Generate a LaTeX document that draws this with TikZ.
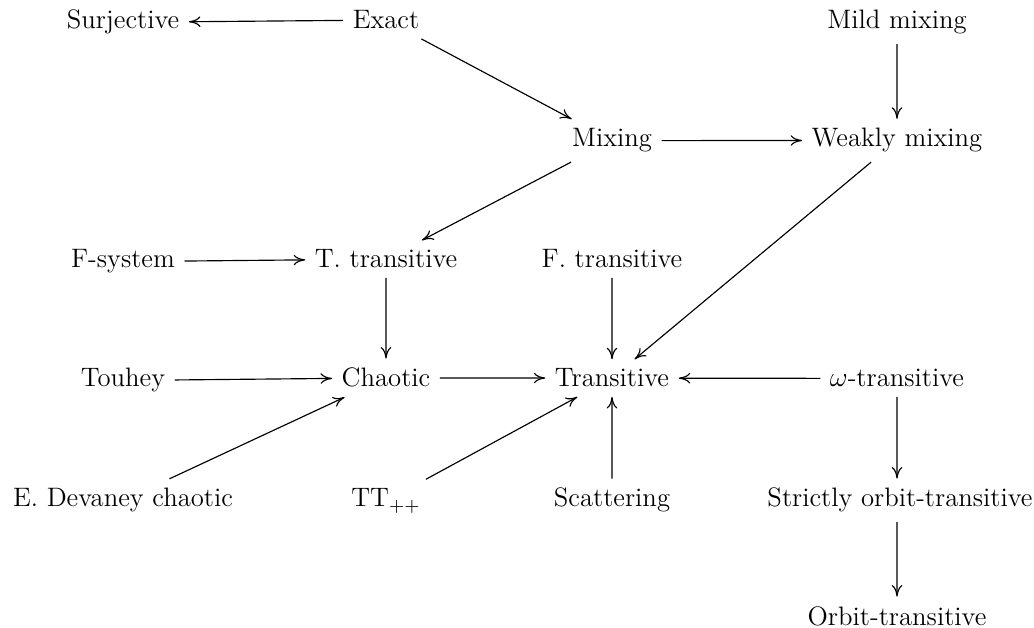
\documentclass[12pt,tikz,border=0pt]{standalone}
\usepackage{amsmath, amssymb}
\usetikzlibrary{arrows,arrows.meta}
\tikzstyle{prop}=[anchor=base, font=\fontsize{11.6}{14}\selectfont]
\tikzstyle{impl}=[-{Computer Modern Rightarrow[length=5pt,width=4.6pt]}, line width=.5pt]

\begin{document}
\begin{tikzpicture}[x=1pt,y=-1pt,scale=0.4348]
 \useasboundingbox (0,0) rectangle (1034,628);
%
 \node[prop] (surj) at (123,29) {Surjective};
 \node[prop] (exact) at (386,29) {Exact};
 \node[prop] (mild) at (897,29) {Mild mixing};
%
 \node[prop] (mix) at (612,147) {Mixing};
 \node[prop] (weak) at (897,147) {Weakly mixing};
%
 \node[prop] (fsys) at (123,268) {F-system};
 \node[prop] (ttrans) at (386,268) {T. transitive};
 \node[prop] (ftrans) at (612,268) {F. transitive};
%
 \node[prop] (touhey) at (123,387) {Touhey};
 \node[prop] (chaotic) at (386,387) {Chaotic};
 \node[prop] (trans) at (612,387) {Transitive};
 \node[prop] (omega) at (897,387) {$\omega$-transitive};
%
 \node[prop] (devaney) at (123,507) {E. Devaney chaotic};
 \node[prop] (ttpp) at (386,507) {TT$_{++}$};
 \node[prop] (scat) at (612,507) {Scattering};
 \node[prop] (sorbit) at (900,507) {Strictly orbit-transitive};
%
 \node[prop] (orbit) at (897,625) {Orbit-transitive};
%
 \draw[impl] (exact) -- (surj);
 \draw[impl] (exact) -- (mix);
 \draw[impl] (mild) -- (weak);
 \draw[impl] (mix) -- (weak);
 \draw[impl] (mix) -- (ttrans);
 \draw[impl] (weak) -- (trans);
 \draw[impl] (fsys) -- (ttrans);
 \draw[impl] (ttrans) -- (chaotic);
 \draw[impl] (ftrans) -- (trans);
 \draw[impl] (touhey) -- (chaotic);
 \draw[impl] (chaotic) -- (trans);
 \draw[impl] (omega) -- (trans);
 \draw[impl] (omega) -- (sorbit.north -| omega);
 \draw[impl] (devaney) -- (chaotic);
 \draw[impl] (ttpp) -- (trans);
 \draw[impl] (scat) -- (trans);
 \draw[impl] (sorbit.south -| orbit) -- (orbit);
\end{tikzpicture}
\end{document}
